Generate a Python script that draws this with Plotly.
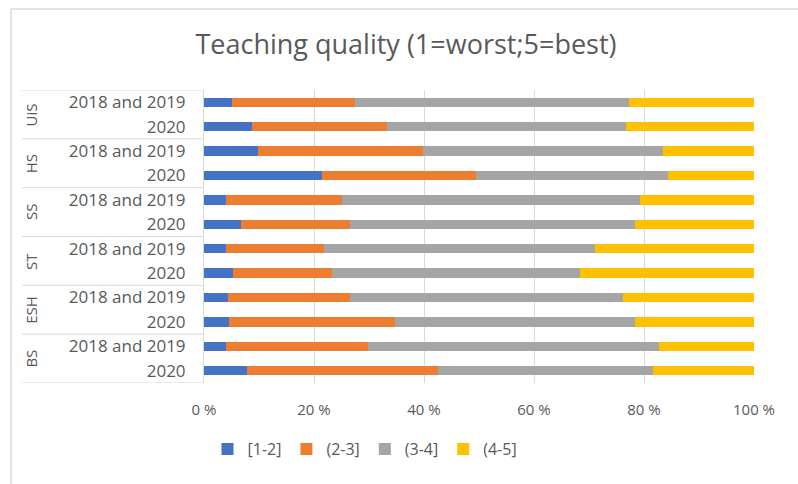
import plotly.graph_objects as go

groups = ["UiS", "HS", "SS", "ST", "ESH", "BS"]
periods = ["2018 and 2019", "2020"]
series_names = ["[1-2]", "(2-3]", "(3-4]", "(4-5]"]

# segment shares (%)
s12 = [5.0, 8.8, 9.8, 21.5, 4.0, 6.8, 4.0, 5.3, 4.3, 4.6, 4.0, 7.8]
s23 = [22.5, 24.5, 30.1, 27.9, 21.0, 19.8, 17.8, 18.0, 22.3, 30.2, 25.8, 34.8]
s34 = [49.7, 43.4, 43.5, 35.0, 54.2, 51.8, 49.3, 45.1, 49.5, 43.6, 52.9, 39.1]
s45 = [22.8, 23.3, 16.6, 15.6, 20.8, 21.6, 28.9, 31.6, 23.9, 21.6, 17.3, 18.3]
x_ticks = [0, 20, 40, 60, 80, 100]
x_tick_labels = ["0 %", "20 %", "40 %", "60 %", "80 %", "100 %"]
colors = ["#4472C4", "#ED7D31", "#A5A5A5", "#FFC000"]

row_labels = [p for g in groups for p in periods]
ypos = list(range(len(row_labels)))

fig = go.Figure()
for name, vals, c in zip(series_names, [s12, s23, s34, s45], colors):
    fig.add_trace(go.Bar(y=ypos, x=vals, name=name, orientation="h",
                         marker=dict(color=c, line=dict(width=0))))

W, H = 798, 484
L, R, T, B = 204, 44, 90, 101
pw, ph = W - L - R, H - T - B
txt = "#595959"
grid = "#D9D9D9"
FONT = "Open Sans"

def px_x(p):
    return (p - L) / pw

def px_y(p):
    return (H - B - p) / ph

shapes = []
for k in range(len(groups) + 1):
    shapes.append(dict(type="line", xref="paper", yref="y", x0=px_x(22), x1=0,
                       y0=k * 2 - 0.5, y1=k * 2 - 0.5, line=dict(color=grid, width=1)))
shapes.append(dict(type="line", xref="paper", yref="paper", x0=px_x(11), x1=px_x(11),
                   y0=px_y(9), y1=px_y(H + 5), line=dict(color=grid, width=1.5)))
shapes.append(dict(type="line", xref="paper", yref="paper", x0=px_x(11), x1=px_x(W + 5),
                   y0=px_y(9), y1=px_y(9), line=dict(color=grid, width=1.5)))

annotations = []
for i, g in enumerate(groups):
    annotations.append(dict(text=g, xref="paper", yref="y", x=px_x(31), y=i * 2 + 0.5,
                            textangle=-90, showarrow=False, xanchor="center", yanchor="middle",
                            font=dict(family=FONT, size=15, color=txt)))

fig.update_layout(
    width=W, height=H,
    margin=dict(l=L, r=R, t=T, b=B, autoexpand=False),
    barmode="stack", bargap=0.62,
    paper_bgcolor="white", plot_bgcolor="white",
    font=dict(family=FONT, color=txt),
    title=dict(text="Teaching quality (1=worst;5=best)", x=406 / W, xref="container",
               xanchor="center", y=1 - 45 / H, yref="container", yanchor="middle",
               font=dict(family=FONT, size=27, color=txt)),
    xaxis=dict(range=[0, 100], tickmode="array", tickvals=x_ticks, ticktext=x_tick_labels,
               showgrid=True, gridcolor=grid, gridwidth=1, zeroline=False,
               showline=False, ticks="", ticklabelstandoff=16, automargin=False,
               tickfont=dict(family=FONT, size=15, color=txt), fixedrange=True),
    yaxis=dict(tickmode="array", tickvals=ypos, ticktext=row_labels, range=[len(ypos) - 0.5, -0.5],
               showgrid=False, zeroline=False, showline=True, linecolor=grid, linewidth=1,
               ticks="", ticklabelstandoff=14, automargin=False,
               tickfont=dict(family=FONT, size=17, color=txt)),
    legend=dict(orientation="h", x=px_x(365), xanchor="center", y=px_y(449), yanchor="middle",
                font=dict(family=FONT, size=16, color=txt), traceorder="normal",
                itemwidth=30),
    shapes=shapes, annotations=annotations,
)

fig.write_html("out.html", config={"displayModeBar": False},
               post_script="document.body.style.margin='0';")
